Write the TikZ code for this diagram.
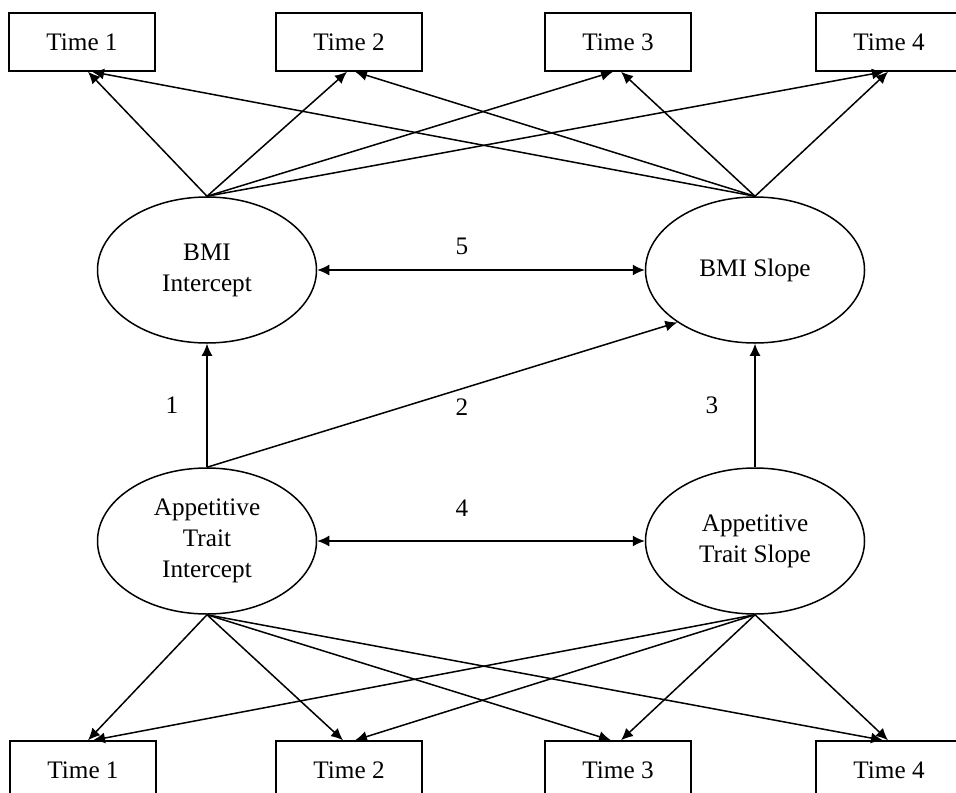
\documentclass[tikz,border=0pt]{standalone}
\usepackage{fontspec}
\setmainfont{Liberation Serif}
\usetikzlibrary{arrows.meta, shapes.geometric}
\tikzset{>={Latex[width=5.5pt,length=6pt]}}
\tikzset{
  timebox/.style={draw, minimum width=73pt, minimum height=29pt, inner sep=0pt},
  latent/.style={draw, ellipse, minimum width=109.5pt, minimum height=73pt, inner sep=0pt, align=center}
}

\begin{document}
\begin{tikzpicture}[x=0.5pt, y=-0.5pt, line width=0.75pt,
    every node/.append style={font=\fontsize{12.6}{15.5}\selectfont}]
      \useasboundingbox (0,0) rectangle (956,792);

      % measurement occasions, BMI (top) and appetitive trait (bottom)
      \node[timebox] (bt1) at (82,42) {Time 1};
      \node[timebox] (bt2) at (349,42) {Time 2};
      \node[timebox] (bt3) at (618,42) {Time 3};
      \node[timebox] (bt4) at (889,42) {Time 4};
      \node[timebox] (at1) at (83,770) {Time 1};
      \node[timebox] (at2) at (349,770) {Time 2};
      \node[timebox] (at3) at (618,770) {Time 3};
      \node[timebox] (at4) at (889,770) {Time 4};

      % growth factors
      \node[latent] (bmiint) at (207,270) {BMI\\Intercept};
      \node[latent] (bmislp) at (755,270) {BMI Slope};
      \node[latent] (appint) at (207,541) {Appetitive\\Trait\\Intercept};
      \node[latent] (appslp) at (755,541) {Appetitive\\Trait Slope};

      % loadings
      \draw[->] (bmiint.north) -- ([xshift=3pt]bt1.south);
      \draw[->] (bmiint.north) -- ([xshift=-1pt]bt2.south);
      \draw[->] (bmiint.north) -- ([xshift=-2.5pt]bt3.south);
      \draw[->] (bmiint.north) -- ([xshift=-2.5pt]bt4.south);
      \draw[->] (bmislp.north) -- ([xshift=5pt]bt1.south);
      \draw[->] (bmislp.north) -- ([xshift=3pt]bt2.south);
      \draw[->] (bmislp.north) -- ([xshift=1.5pt]bt3.south);
      \draw[->] (bmislp.north) -- ([xshift=-0.5pt]bt4.south);

      \draw[->] (appint.south) -- ([xshift=2.5pt]at1.north);
      \draw[->] (appint.south) -- ([xshift=-3pt]at2.north);
      \draw[->] (appint.south) -- ([xshift=-3.5pt]at3.north);
      \draw[->] (appint.south) -- ([xshift=-3pt]at4.north);
      \draw[->] (appslp.south) -- ([xshift=5pt]at1.north);
      \draw[->] (appslp.south) -- ([xshift=3pt]at2.north);
      \draw[->] (appslp.south) -- ([xshift=1.5pt]at3.north);
      \draw[->] (appslp.south) -- ([xshift=-0.5pt]at4.north);

      % paths between growth factors
      \draw[<->] (bmiint) -- (bmislp);
      \draw[<->] (appint) -- (appslp);
      \draw[->] (appint.north) -- (bmiint.south);
      \draw[->] (appint.north) -- (bmislp.214);
      \draw[->] (appslp.north) -- (bmislp.south);

      \node (p5) at (462,246) {5};
      \node (p1) at (172,405) {1};
      \node (p2) at (462,407) {2};
      \node (p3) at (712,405) {3};
      \node (p4) at (462,508) {4};
    \end{tikzpicture}
\end{document}
